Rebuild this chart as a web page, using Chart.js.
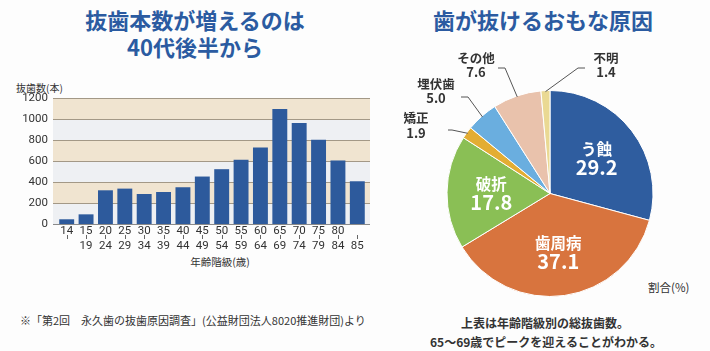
<!DOCTYPE html>
<html lang="ja">
<head>
<meta charset="utf-8">
<script src="https://cdn.jsdelivr.net/npm/chart.js@4/dist/chart.umd.min.js"></script>
<style>
  body { margin: 0; background: #fdfdfd; font-family: "Noto Sans CJK JP", "Noto Sans", sans-serif; color: #333; }
  #wrap { position: relative; width: 710px; height: 351px; overflow: hidden; }
  .abs { position: absolute; white-space: nowrap; }
  .title { color: #2b5ba1; font-weight: 700; font-size: 22px; line-height: 27px; text-align: center; }
  #barBox { position: absolute; left: 0; top: 0; width: 380px; height: 290px; }
  #pieBox { position: absolute; left: 380px; top: 0; width: 330px; height: 351px; }
</style>
</head>
<body>
<div id="wrap">
  <div class="abs title" style="left:0; width:390px; top:6px;">抜歯本数が増えるのは<br>40代後半から</div>
  <div class="abs title" style="left:390px; width:306px; top:6px;">歯が抜けるおもな原因</div>
  <div class="abs" style="left:16px; top:80px; font-size:10px;">抜歯数(本)</div>
  <div class="abs" style="left:160px; top:254px; width:120px; text-align:center; font-size:10.5px;">年齢階級(歳)</div>
  <div class="abs" style="left:20px; top:312px; font-size:11px;">※「第2回　永久歯の抜歯原因調査」(公益財団法人8020推進財団)より</div>
  <div class="abs" style="left:648px; top:279px; font-size:11.5px;">割合(%)</div>
  <div class="abs" style="left:430px; width:230px; top:313px; text-align:center; font-size:12px; font-weight:700; line-height:19px;">上表は年齢階級別の総抜歯数。<br>65〜69歳でピークを迎えることがわかる。</div>
  <div id="barBox"><canvas id="bar"></canvas></div>
  <div id="pieBox"><canvas id="pie"></canvas></div>
</div>
<script>
// age groups: upper row / lower row of the tick label
const ageFrom = ['14', '15', '20', '25', '30', '35', '40', '45', '50', '55', '60', '65', '70', '75', '80', ''];
const ageTo   = ['',   '19', '24', '29', '34', '39', '44', '49', '54', '59', '64', '69', '74', '79', '84', '85'];
const extractions = [45, 92, 321, 337, 286, 305, 350, 452, 522, 611, 729, 1095, 961, 802, 605, 407];
const yTicks = [0, 200, 400, 600, 800, 1000, 1200];

const causes = ['う蝕', '歯周病', '破折', '矯正', '埋伏歯', 'その他', '不明'];
const causeShares = [29.2, 37.1, 17.8, 1.9, 5.0, 7.6, 1.4];
const causeColors = ['#2f5d9f', '#d8743e', '#8abf55', '#e3ad33', '#6aaedf', '#e9c2ac', '#ead993'];

const jp = '"Noto Sans CJK JP", "Noto Sans", sans-serif';
const num = 'Roboto, "Noto Sans", sans-serif';

// beige / grey bands, gridlines (a bit wider than the bars) and small tick marks
const bandPlugin = {
  id: 'bands',
  beforeDatasetsDraw(chart) {
    const { ctx, chartArea: a, scales: { y } } = chart;
    const l = a.left - 4, r = a.right + 3;
    ctx.save();
    for (let i = 0; i < yTicks.length - 1; i++) {
      const top = y.getPixelForValue(yTicks[i + 1]);
      const bot = y.getPixelForValue(yTicks[i]);
      ctx.fillStyle = i % 2 ? '#f0e4d0' : '#eef0f3';
      ctx.fillRect(l, top, r - l, bot - top);
    }
    ctx.lineWidth = 1;
    yTicks.forEach(v => {
      const py = Math.round(y.getPixelForValue(v)) + 0.5;
      ctx.strokeStyle = v === 0 ? '#8a8a8a' : '#a39886';
      ctx.beginPath();
      ctx.moveTo(l, py);
      ctx.lineTo(r, py);
      ctx.stroke();
    });
    ctx.restore();
  },
  afterDraw(chart) {
    const { ctx, scales: { x } } = chart;
    ctx.save();
    ctx.strokeStyle = '#666';
    ctx.lineWidth = 1;
    x.ticks.forEach((t, i) => {
      const px = Math.round(x.getPixelForTick(i)) + 0.5;
      ctx.beginPath();
      ctx.moveTo(px, x.top + 11);
      ctx.lineTo(px, x.top + 15);
      ctx.stroke();
    });
    ctx.restore();
  }
};

new Chart(document.getElementById('bar'), {
  type: 'bar',
  data: {
    labels: ageFrom.map((f, i) => [f, ageTo[i]]),
    datasets: [{
      data: extractions,
      backgroundColor: '#2d5a9c',
      barPercentage: 0.77,
      categoryPercentage: 1
    }]
  },
  options: {
    responsive: true,
    maintainAspectRatio: false,
    animation: false,
    layout: { padding: { top: 98, right: 13, left: 0, bottom: 0 } },
    plugins: { legend: { display: false }, tooltip: { enabled: false } },
    scales: {
      x: {
        grid: { display: false, drawTicks: false },
        border: { display: false },
        ticks: {
          padding: 0, autoSkip: false, maxRotation: 0, color: '#333',
          font: { size: 11.5, family: num, lineHeight: 1.3 }
        },
        afterFit: s => { s.height = 66; }
      },
      y: {
        min: 0, max: 1200,
        grid: { display: false, drawTicks: false },
        border: { display: false },
        ticks: {
          stepSize: 200, padding: 9, color: '#333',
          font: { size: 11.5, family: num },
          callback: v => String(v)
        },
        afterFit: s => { s.width = 57; }
      }
    }
  },
  plugins: [bandPlugin]
});

// text placement for the pie labels (offsets from the pie centre)
const insideLabels = [0, 1, 2];
const outsideLayout = {
  3: { tx: -134, ty: -68,    ex: -98, ey: -63.5,  lx: -102 },
  4: { tx: -114, ty: -102.5, ex: -82, ey: -96.5,  lx: -89 },
  5: { tx: -74,  ty: -128.5, ex: -45, ey: -125.5, lx: -52 },
  6: { tx: 56,   ty: -128.5, ex: 28,  ey: -125.5, lx: 35 }
};

const pieLabelPlugin = {
  id: 'pieLabels',
  afterDatasetsDraw(chart) {
    const { ctx } = chart;
    const meta = chart.getDatasetMeta(0);
    ctx.save();
    ctx.textAlign = 'center';
    ctx.textBaseline = 'middle';
    meta.data.forEach((arc, i) => {
      const p = arc.getProps(['x', 'y', 'startAngle', 'endAngle', 'outerRadius'], true);
      const mid = (p.startAngle + p.endAngle) / 2;
      const val = causeShares[i].toFixed(1);
      if (insideLabels.includes(i)) {
        const cx = p.x + Math.cos(mid) * p.outerRadius * 0.57;
        const cy = p.y + Math.sin(mid) * p.outerRadius * 0.57;
        ctx.fillStyle = '#fff';
        ctx.font = `700 15.5px ${jp}`;
        ctx.fillText(causes[i], cx, cy - 9);
        ctx.font = `700 20px ${jp}`;
        ctx.fillText(val, cx, cy + 10);
      } else {
        const L = outsideLayout[i];
        const sx = p.x + Math.cos(mid) * (p.outerRadius - 1);
        const sy = p.y + Math.sin(mid) * (p.outerRadius - 1);
        ctx.strokeStyle = '#555';
        ctx.lineWidth = 1;
        ctx.beginPath();
        ctx.moveTo(sx, sy);
        ctx.lineTo(p.x + L.ex, p.y + L.ey);
        ctx.lineTo(p.x + L.lx, p.y + L.ey);
        ctx.stroke();
        ctx.fillStyle = '#333';
        ctx.font = `700 12.5px ${jp}`;
        ctx.fillText(causes[i], p.x + L.tx, p.y + L.ty - 7);
        ctx.font = `700 13px ${jp}`;
        ctx.fillText(val, p.x + L.tx, p.y + L.ty + 7.5);
      }
    });
    ctx.restore();
  }
};

new Chart(document.getElementById('pie'), {
  type: 'pie',
  data: {
    labels: causes,
    datasets: [{
      data: causeShares,
      backgroundColor: causeColors,
      borderColor: '#ffffff',
      borderWidth: 1
    }]
  },
  options: {
    responsive: true,
    maintainAspectRatio: false,
    animation: false,
    layout: { padding: { left: 66.5, top: 90, right: 56.5, bottom: 54 } },
    plugins: { legend: { display: false }, tooltip: { enabled: false } }
  },
  plugins: [pieLabelPlugin]
});
</script>
</body>
</html>
